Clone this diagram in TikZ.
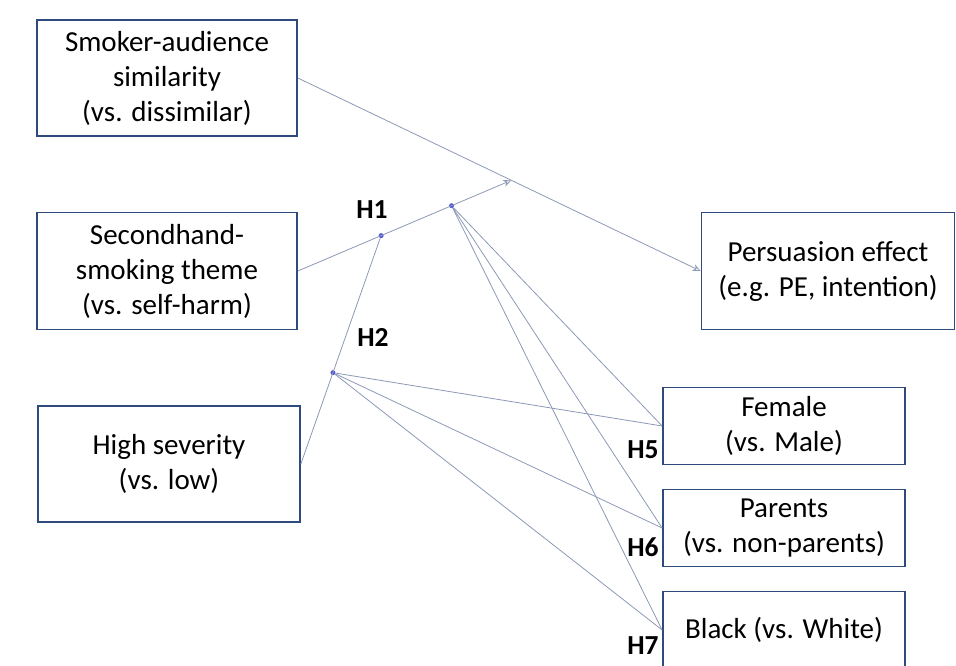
\documentclass[tikz,border=0pt]{standalone}
\usepackage{fontspec}
\setmainfont{Carlito}
\usepackage{tikz}
\usetikzlibrary{arrows.meta,calc}

\definecolor{boxblue}{HTML}{2F4A7C}
\definecolor{linkgray}{HTML}{8C99B6}

\begin{document}
\begin{tikzpicture}[x=1pt,y=-1pt,
  varbox/.style={draw=boxblue,line width=1.7pt,align=center,inner sep=0pt,
    font=\fontsize{29}{35}\selectfont},
  link/.style={draw=linkgray,line width=0.8pt},
  tip/.style={-{Stealth[open,length=8pt,width=7pt]}},
  hlabel/.style={font=\fontsize{27.5}{34}\selectfont\bfseries},
  dot/.style={circle,fill=linkgray!60!blue,inner sep=0pt,minimum size=5pt}]

\useasboundingbox (0,0) rectangle (956,665);

\node[varbox,minimum width=260pt,minimum height=116pt] (sim) at (167,78) {Smoker-audience\\similarity\\(vs. dissimilar)};
\node[varbox,minimum width=260pt,minimum height=117pt] (shs) at (167,271) {Secondhand-\\smoking theme\\(vs. self-harm)};
\node[varbox,minimum width=262pt,minimum height=116pt] (sev) at (169,464) {High severity\\(vs. low)};

\node[varbox,minimum width=253pt,minimum height=117pt] (pe) at (828,271) {Persuasion effect\\(e.g. PE, intention)};

\node[varbox,minimum width=242pt,minimum height=77pt] (fem) at (784,426) {Female\\(vs. Male)};
\node[varbox,minimum width=242pt,minimum height=77pt] (par) at (784,528) {Parents\\(vs. non-parents)};
\node[varbox,minimum width=242pt,minimum height=77pt] (blk) at (784,630) {Black (vs. White)};

\coordinate (meet) at ($(sim.east)!0.53!(pe.west)$);
\node[dot] (h1dot) at ($(shs.east)!0.39!(meet)$) {};
\node[dot] (modb) at ($(shs.east)!0.72!(meet)$) {};
\node[dot] (h2dot) at ($(sev.east)!0.4!(h1dot)$) {};

\draw[link,tip] (sim.east) -- (pe.west);
\draw[link,tip] (shs.east) -- (meet);
\draw[link] (sev.east) -- (h1dot);

\foreach \grp in {fem, par, blk} {
	\draw[link] (h2dot) -- (\grp.west);
	\draw[link] (modb) -- (\grp.west);
}

\node[hlabel] (h1) at (372,210) {H1};
\node[hlabel] (h2) at (373,337) {H2};
\node[hlabel] (h5) at (643,450) {H5};
\node[hlabel] (h6) at (643,547) {H6};
\node[hlabel] (h7) at (643,646) {H7};

\end{tikzpicture}
\end{document}
